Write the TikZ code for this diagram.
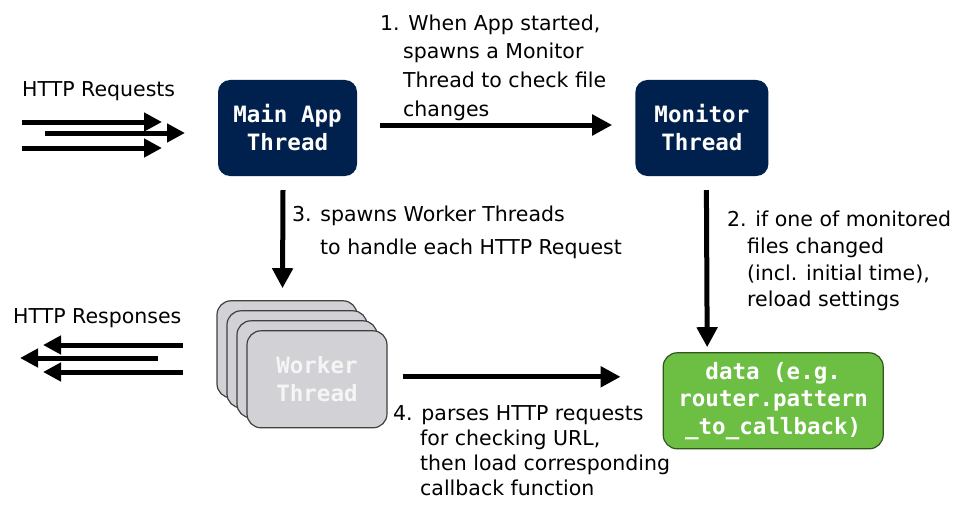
\documentclass[tikz,border=0pt]{standalone}
\usepackage{fontspec}
\setmainfont{DejaVu Sans}
\newfontfamily\codefont{DejaVu Sans Mono}
\usetikzlibrary{positioning, arrows.meta, backgrounds}
\definecolor{navy}{HTML}{00204E}
\definecolor{leaf}{HTML}{6CBF43}
\definecolor{card}{HTML}{D2D2D6}

\begin{document}
\begin{tikzpicture}[x=1pt, y=-1pt,
  thread/.style={rounded corners=12pt, minimum width=139pt, minimum height=96pt,
                 fill=navy, text=white, align=center,
                 font=\codefont\bfseries\fontsize{22.5}{28}\selectfont},
  worker/.style={draw=black!75, line width=1.2pt, rounded corners=14pt,
                 minimum width=140pt, minimum height=97pt, fill=card,
                 text=white!96!black, align=center,
                 font=\codefont\bfseries\fontsize{22.5}{28}\selectfont},
  store/.style={draw=leaf!45!black, line width=1.2pt, rounded corners=14pt,
                minimum width=220pt, minimum height=96pt, fill=leaf, text=white,
                align=center, font=\codefont\bfseries\fontsize{22.5}{27.5}\selectfont},
  arr/.style={-{Triangle[length=20pt, width=20pt]}, line width=5pt},
  flow/.style={-{Triangle[length=18pt, width=18pt]}, line width=5pt},
  lbl/.style={inner sep=0pt, anchor=base west, align=left},
]
\useasboundingbox (0,0) rectangle (964,511);

% Threads
\node[thread] (main) at (287.5,128) {Main App\\Thread};
\node[thread, minimum width=133pt, right=278pt of main] (mon) {Monitor\\Thread};

% Worker stack
\node[worker, below=154pt of main, xshift=29.5pt] (front) {Worker\\Thread};
\begin{scope}[on background layer]
  \foreach \i in {3,2,1}
    \node[worker] (w\i) at ([shift={(-10*\i,-10*\i)}]front.center) {};
\end{scope}

% Shared data
\node[store, right=275pt of front, yshift=-21.5pt] (data)
  {data (e.g.\\router.pattern\\\_to\_callback)};

% Outside traffic
\node[lbl, font=\fontsize{20.5}{28}\selectfont] (req) at (22,96.7) {HTTP Requests};
\node[lbl, font=\fontsize{20.5}{28}\selectfont] (res) at (13,323) {HTTP Responses};

\coordinate (r1a) at (22,122);  \coordinate (r1b) at (162,122);
\coordinate (r2a) at (45,133);  \coordinate (r2b) at (185,133);
\coordinate (r3a) at (22,148);  \coordinate (r3b) at (162,148);
\draw[flow] (r1a) -- (r1b);
\draw[flow] (r2a) -- (r2b);
\draw[flow] (r3a) -- (r3b);

\coordinate (s1a) at (183,345); \coordinate (s1b) at (43,345);
\coordinate (s2a) at (158,358); \coordinate (s2b) at (20,358);
\coordinate (s3a) at (183,372); \coordinate (s3b) at (43,372);
\draw[flow] (s1a) -- (s1b);
\draw[flow] (s2a) -- (s2b);
\draw[flow] (s3a) -- (s3b);

% === Arrows (main flow) ===
\draw[arr] ([xshift=23pt, yshift=3pt]main.east) -- ([xshift=-23pt, yshift=3pt]mon.west);
\draw[arr] ([xshift=-4.5pt, yshift=-14pt]main.south) -- ([xshift=-4.5pt, yshift=12pt]w3.north);
\draw[arr] ([xshift=4.5pt, yshift=-14pt]mon.south) -- ([xshift=-66pt, yshift=5pt]data.north);
\draw[arr] ([xshift=15pt, yshift=2.5pt]front.east) -- ([xshift=-42pt, yshift=24pt]data.west);

% Step labels (anchored at the baseline of their last line)
\node[lbl, font=\fontsize{20.5}{28.7}\selectfont] (lab1) at (380,116.1)
  {1. When App started,\\\hspace*{23pt}spawns a Monitor\\\hspace*{23pt}Thread to check file\\\hspace*{23pt}changes};
\node[lbl, font=\fontsize{20.5}{33}\selectfont] (lab3) at (292,254.7)
  {3. spawns Worker Threads\\\hspace*{28pt}to handle each HTTP Request};
\node[lbl, font=\fontsize{20.5}{26.7}\selectfont] (lab2) at (727,306.8)
  {2. if one of monitored\\\hspace*{20pt}files changed\\\hspace*{20pt}(incl. initial time),\\\hspace*{20pt}reload settings};
\node[lbl, font=\fontsize{20.5}{25}\selectfont] (lab4) at (393,495)
  {4. parses HTTP requests\\\hspace*{27pt}for checking URL,\\\hspace*{27pt}then load corresponding\\\hspace*{27pt}callback function};

\end{tikzpicture}
\end{document}
